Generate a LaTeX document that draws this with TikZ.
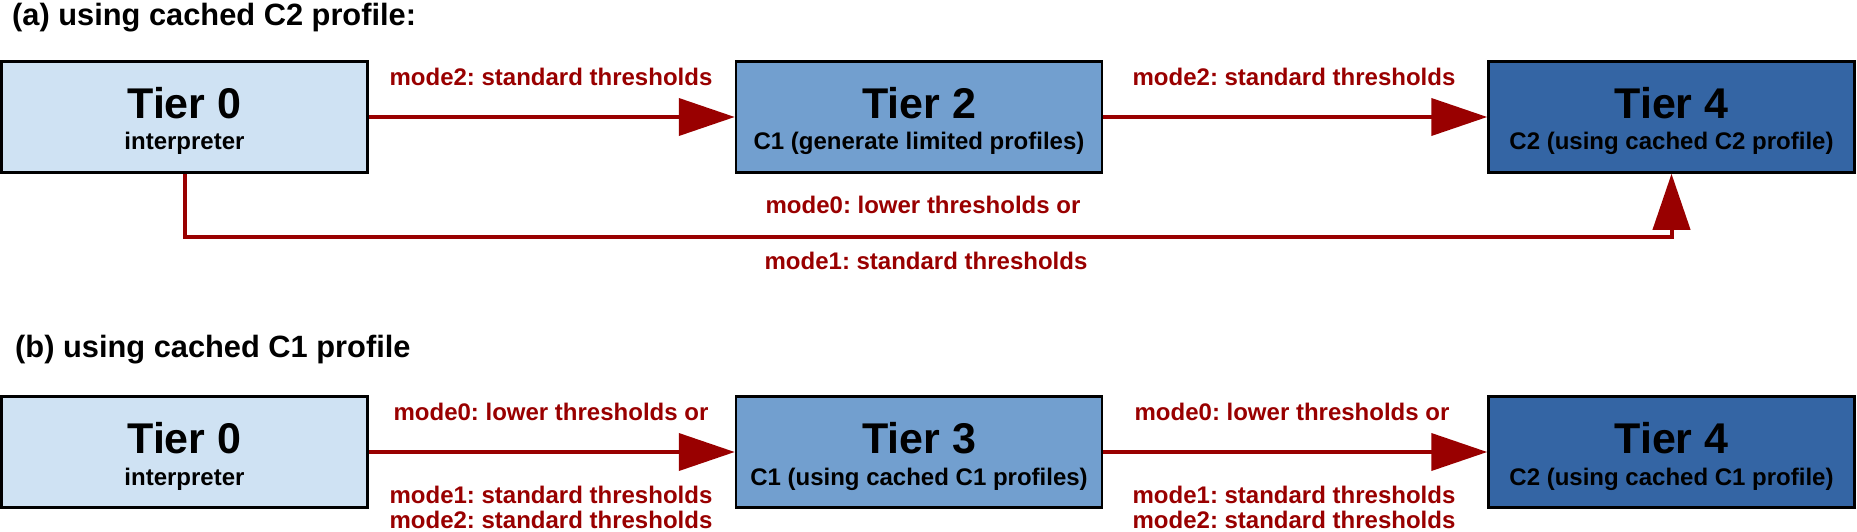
\documentclass[tikz,border=0pt]{standalone}
\usepackage{fontspec}
\setmainfont{Liberation Sans}
\usetikzlibrary{arrows.meta}
\definecolor{tzero}{HTML}{CFE2F3}
\definecolor{tmid}{HTML}{729FCF}
\definecolor{tdark}{HTML}{3465A4}
\definecolor{arrred}{HTML}{990000}
\frenchspacing
\tikzset{
  tierbox/.style={draw=black, line width=2.5pt, minimum width=366pt, minimum height=111pt, inner sep=0pt},
  tiername/.style={anchor=base, inner sep=0pt, font=\fontsize{43}{43}\selectfont\bfseries},
  tiersub/.style={anchor=base, inner sep=0pt, font=\fontsize{24}{24}\selectfont\bfseries},
  lbl/.style={anchor=base, inner sep=0pt, text=arrred, font=\fontsize{24}{24}\selectfont\bfseries},
  ttl/.style={anchor=base west, inner sep=0pt, font=\fontsize{30.8}{31}\selectfont\bfseries},
  flow/.style={draw=arrred, line width=4pt, line join=miter, -{Triangle[length=56pt,width=37pt]}}
}
\begin{document}
\begin{tikzpicture}[x=1pt,y=-1pt]
\useasboundingbox (0,0) rectangle (1857,531);
% ---------- (a) ----------
\node[ttl] (ta) at (12,25) {(a) using cached C2 profile:};
\node[tierbox, fill=tzero] (a0) at (184.5,117) {};
\node[tiername] (a0n) at (184.5,118) {Tier 0};
\node[tiersub] (a0s) at (184.5,149) {interpreter};
\node[tierbox, fill=tmid] (a2) at (919,117) {};
\node[tiername] (a2n) at (919,118) {Tier 2};
\node[tiersub] (a2s) at (919,149) {C1 (generate limited profiles)};
\node[tierbox, fill=tdark] (a4) at (1671.5,117) {};
\node[tiername] (a4n) at (1671.5,118) {Tier 4};
\node[tiersub] (a4s) at (1671.5,149) {C2 (using cached C2 profile)};
\draw[flow] (a0.east) -- (a2.west);
\draw[flow] (a2.east) -- (a4.west);
\node[lbl] (la1) at (551,85) {mode2: standard thresholds};
\node[lbl] (la2) at (1294,85) {mode2: standard thresholds};
\coordinate (loopy) at (0,237);
\draw[flow] (a0.south) -- (a0.south |- loopy) -- (a4.south |- loopy) -- (a4.south);
\node[lbl] (la3) at (923,213) {mode0: lower thresholds or};
\node[lbl] (la4) at (926,269) {mode1: standard thresholds};
% ---------- (b) ----------
\node[ttl] (tb) at (15,357) {(b) using cached C1 profile};
\node[tierbox, fill=tzero] (b0) at (184.5,452) {};
\node[tiername] (b0n) at (184.5,453) {Tier 0};
\node[tiersub] (b0s) at (184.5,485) {interpreter};
\node[tierbox, fill=tmid] (b3) at (919,452) {};
\node[tiername] (b3n) at (919,453) {Tier 3};
\node[tiersub] (b3s) at (919,485) {C1 (using cached C1 profiles)};
\node[tierbox, fill=tdark] (b4) at (1671.5,452) {};
\node[tiername] (b4n) at (1671.5,453) {Tier 4};
\node[tiersub] (b4s) at (1671.5,485) {C2 (using cached C1 profile)};
\draw[flow] (b0.east) -- (b3.west);
\draw[flow] (b3.east) -- (b4.west);
\node[lbl] (lb1) at (551,420) {mode0: lower thresholds or};
\node[lbl] (lb2) at (551,503) {mode1: standard thresholds};
\node[lbl] (lb3) at (551,528) {mode2: standard thresholds};
\node[lbl] (lb4) at (1292,420) {mode0: lower thresholds or};
\node[lbl] (lb5) at (1294,503) {mode1: standard thresholds};
\node[lbl] (lb6) at (1294,528) {mode2: standard thresholds};
\end{tikzpicture}
\end{document}
